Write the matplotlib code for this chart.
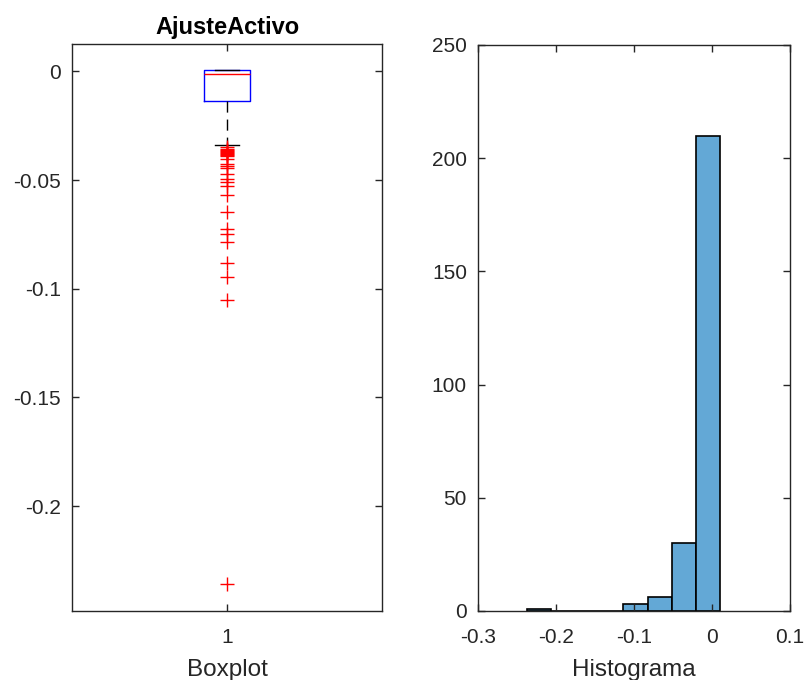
import matplotlib
matplotlib.use("Agg")
import matplotlib.pyplot as plt
import numpy as np

plt.rcParams['font.family'] = ['Liberation Sans', 'DejaVu Sans']

# boxplot summary of AjusteActivo
q1, med, q3 = -0.0137, -0.0012, 0.0005
whislo, whishi = -0.0341, 0.0005
outliers = [-0.0350, -0.0355, -0.0360, -0.0365, -0.0370, -0.0375, -0.0380,
            -0.0385, -0.0390, -0.0403, -0.0428, -0.0437, -0.0446, -0.0474,
            -0.0495, -0.0507, -0.0527, -0.0571, -0.0648, -0.0723, -0.0749,
            -0.0785, -0.0881, -0.0948, -0.1053, -0.2359]

# histogram bins and counts
bin_edges = [-0.2376, -0.2066, -0.1756, -0.1446, -0.1136, -0.0826, -0.0516, -0.0206, 0.0103]
counts = [1, 0, 0, 0, 3, 6, 30, 210]

fig = plt.figure(figsize=(8.05, 6.8), dpi=100)
ax1 = fig.add_axes([72 / 805, 1 - 611 / 680, 310 / 805, 567 / 680])
ax2 = fig.add_axes([478 / 805, 1 - 611 / 680, 312 / 805, 566 / 680])

stats = [dict(med=med, q1=q1, q3=q3, whislo=whislo, whishi=whishi, fliers=outliers)]
ax1.bxp(stats, positions=[1], widths=0.15,
        boxprops=dict(color='blue', linewidth=1),
        medianprops=dict(color='red', linewidth=1),
        whiskerprops=dict(color='black', linestyle=(0, (8, 5)), linewidth=1),
        capprops=dict(color='black', linewidth=1),
        flierprops=dict(marker='+', markeredgecolor='red', markersize=10,
                        markeredgewidth=1, linestyle='none'),
        capwidths=0.075)
ax1.set_xlim(0.5, 1.5)
ax1.set_ylim(-0.2483, 0.0126)
ax1.set_yticks([0, -0.05, -0.1, -0.15, -0.2])
ax1.set_yticklabels(['0', '-0.05', '-0.1', '-0.15', '-0.2'])
ax1.set_xticks([1])
ax1.set_xticklabels(['1'])
ax1.set_title('AjusteActivo', fontsize=17, fontweight='bold', pad=7)
ax1.set_xlabel('Boxplot', fontsize=17.5, color='#262626', labelpad=9)

widths = np.diff(bin_edges)
ax2.bar(bin_edges[:-1], counts, width=widths, align='edge',
        color=(0.39, 0.66, 0.84), edgecolor='black', linewidth=1.2)
ax2.set_xlim(-0.3, 0.1)
ax2.set_ylim(0, 250)
ax2.set_xticks([-0.3, -0.2, -0.1, 0, 0.1])
ax2.set_xticklabels(['-0.3', '-0.2', '-0.1', '0', '0.1'])
ax2.set_yticks([0, 50, 100, 150, 200, 250])
ax2.set_xlabel('Histograma', fontsize=17.5, color='#262626', labelpad=9)

for ax in (ax1, ax2):
    for s in ax.spines.values():
        s.set_color('#262626')
        s.set_linewidth(1)
    ax.tick_params(direction='in', length=5, width=1, color='#262626',
                   labelsize=15, labelcolor='#262626', top=True, right=True)
    ax.tick_params(axis='y', pad=8)
    ax.tick_params(axis='x', pad=12)

fig.savefig('out.png', dpi=100)
